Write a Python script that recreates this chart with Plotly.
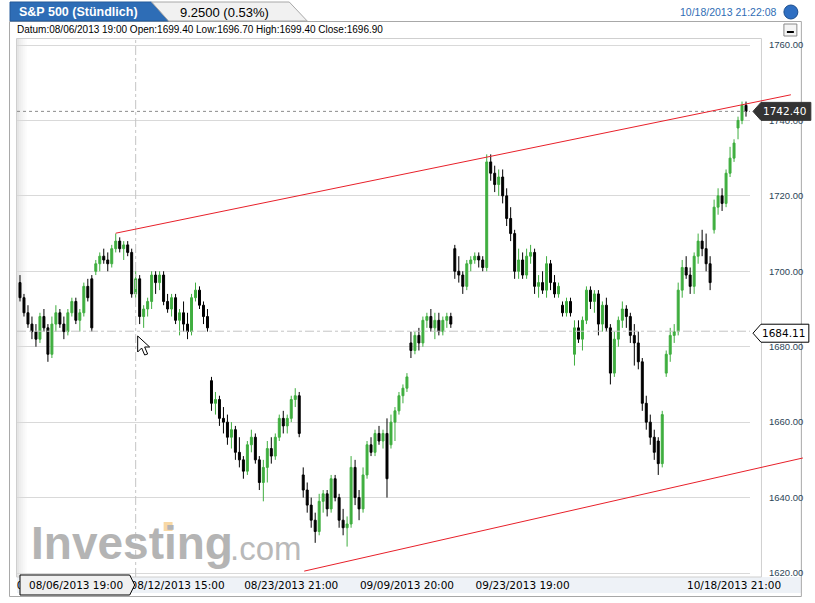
import plotly.graph_objects as go

# ---------------- data (hourly S&P 500 bars) ----------------
open_ = [1697, 1693, 1689, 1686, 1684, 1682, 1688, 1685, 1678, 1686,
         1689, 1686, 1684, 1689, 1692, 1687, 1689, 1696, 1698, 1700,
         1702, 1704, 1703, 1702, 1706, 1708, 1706, 1707, 1705, 1694,
         1698, 1688, 1690, 1692, 1699, 1697, 1699, 1692, 1690, 1693,
         1687, 1689, 1686, 1684, 1693, 1695, 1691, 1688,
         1671, 1665, 1666, 1661, 1660, 1656, 1658, 1652, 1650, 1647,
         1654, 1656, 1650, 1644, 1648, 1653, 1651, 1656, 1661, 1659,
         1661, 1666, 1667,
         1646, 1642, 1638, 1634, 1631, 1639, 1641, 1637, 1645, 1640,
         1634, 1632, 1633, 1648, 1640, 1637, 1646, 1654, 1652, 1657,
         1655, 1657, 1654, 1660, 1663, 1667, 1669,
         1681, 1679, 1683, 1681, 1687, 1688, 1685, 1687, 1684, 1687, 1688,
         1706, 1700, 1699, 1696, 1702, 1703, 1704, 1703, 1701, 1729,
         1726, 1723, 1725, 1720, 1714, 1710, 1700, 1703, 1699, 1704,
         1705, 1696, 1697, 1695, 1702, 1697, 1694, 1691, 1689, 1692,
         1678, 1685, 1682, 1687, 1695, 1692, 1694, 1686, 1691, 1685,
         1673, 1682, 1687, 1690, 1688, 1683, 1681, 1676, 1665, 1660,
         1656, 1655, 1649, 1673, 1678, 1683, 1684, 1695, 1701, 1699,
         1696, 1704, 1708, 1706, 1702, 1711, 1717, 1720, 1718, 1726,
         1730, 1738, 1740, 1744]
high = [1699, 1694, 1691, 1688, 1686, 1689, 1690, 1686, 1688, 1691,
        1690, 1688, 1690, 1693, 1693, 1690, 1697, 1698, 1699, 1703,
        1705, 1706, 1705, 1707, 1710, 1709, 1708, 1708, 1706, 1700,
        1699, 1691, 1693, 1700, 1700, 1700, 1700, 1694, 1694, 1694,
        1690, 1692, 1689, 1694, 1697, 1696, 1692, 1690,
        1672, 1668, 1667, 1664, 1662, 1660, 1659, 1656, 1651, 1655,
        1658, 1657, 1651, 1650, 1655, 1656, 1657, 1662, 1663, 1662,
        1667, 1669, 1668,
        1648, 1644, 1640, 1636, 1641, 1642, 1642, 1646, 1646, 1641,
        1637, 1635, 1651, 1650, 1642, 1648, 1655, 1656, 1658, 1659,
        1658, 1661, 1662, 1664, 1668, 1670, 1673,
        1684, 1684, 1685, 1688, 1689, 1690, 1689, 1689, 1688, 1689, 1689,
        1707, 1704, 1700, 1703, 1704, 1705, 1705, 1704, 1731, 1731,
        1728, 1727, 1727, 1722, 1717, 1711, 1706, 1705, 1706, 1707,
        1706, 1699, 1700, 1704, 1703, 1699, 1697, 1692, 1693, 1693,
        1687, 1687, 1688, 1696, 1696, 1695, 1695, 1692, 1693, 1686,
        1684, 1688, 1692, 1691, 1689, 1686, 1684, 1677, 1667, 1662,
        1658, 1656, 1663, 1679, 1685, 1686, 1697, 1703, 1704, 1701,
        1705, 1710, 1711, 1710, 1704, 1719, 1722, 1722, 1727, 1733,
        1735, 1741, 1745, 1745]
low = [1692, 1688, 1685, 1682, 1680, 1681, 1684, 1676, 1677, 1684,
       1685, 1682, 1683, 1688, 1686, 1684, 1688, 1692, 1684, 1699,
       1700, 1702, 1700, 1701, 1705, 1705, 1703, 1704, 1693, 1693,
       1686, 1685, 1688, 1690, 1694, 1695, 1691, 1689, 1688, 1686,
       1683, 1684, 1682, 1683, 1692, 1690, 1686, 1684,
       1663, 1662, 1659, 1657, 1654, 1653, 1650, 1648, 1645, 1646,
       1652, 1649, 1642, 1639, 1644, 1649, 1650, 1655, 1657, 1657,
       1660, 1664, 1656,
       1640, 1636, 1632, 1628, 1630, 1636, 1635, 1636, 1639, 1632,
       1630, 1627, 1632, 1638, 1634, 1636, 1645, 1651, 1651, 1654,
       1653, 1640, 1653, 1655, 1662, 1665, 1668,
       1677, 1678, 1679, 1680, 1685, 1684, 1682, 1683, 1683, 1685, 1685,
       1698, 1697, 1694, 1695, 1700, 1702, 1701, 1700, 1700, 1724,
       1721, 1720, 1718, 1712, 1708, 1698, 1698, 1698, 1698, 1702,
       1694, 1693, 1694, 1693, 1695, 1693, 1693, 1688, 1688, 1688,
       1675, 1681, 1679, 1686, 1690, 1689, 1683, 1684, 1684, 1670,
       1672, 1680, 1685, 1685, 1681, 1675, 1674, 1663, 1658, 1654,
       1650, 1646, 1648, 1672, 1676, 1681, 1683, 1693, 1698, 1694,
       1694, 1702, 1704, 1700, 1695, 1710, 1715, 1716, 1717, 1725,
       1729, 1735, 1739, 1741]
close = [1693, 1689, 1686, 1684, 1682, 1688, 1685, 1678, 1686, 1689,
         1686, 1684, 1689, 1692, 1687, 1689, 1696, 1693, 1685, 1702,
         1704, 1703, 1702, 1706, 1708, 1706, 1707, 1705, 1694, 1698,
         1688, 1690, 1692, 1699, 1697, 1699, 1692, 1690, 1693, 1687,
         1689, 1686, 1684, 1693, 1695, 1691, 1688, 1685,
         1665, 1666, 1661, 1660, 1656, 1658, 1652, 1650, 1647, 1654,
         1656, 1650, 1644, 1648, 1653, 1651, 1656, 1661, 1659, 1661,
         1666, 1667, 1657,
         1642, 1638, 1634, 1631, 1639, 1641, 1637, 1645, 1640, 1634,
         1632, 1633, 1648, 1640, 1637, 1646, 1654, 1652, 1657, 1655,
         1657, 1645, 1660, 1663, 1667, 1669, 1672,
         1679, 1683, 1681, 1687, 1688, 1685, 1687, 1684, 1687, 1688, 1686,
         1700, 1699, 1696, 1702, 1703, 1704, 1703, 1701, 1729, 1726,
         1723, 1725, 1720, 1714, 1710, 1700, 1703, 1699, 1704, 1705,
         1696, 1697, 1695, 1702, 1697, 1694, 1696, 1689, 1692, 1689,
         1685, 1682, 1687, 1695, 1692, 1694, 1686, 1691, 1685, 1673,
         1682, 1687, 1690, 1688, 1683, 1681, 1676, 1665, 1660, 1656,
         1652, 1649, 1662, 1678, 1683, 1684, 1695, 1701, 1699, 1696,
         1704, 1708, 1706, 1702, 1697, 1717, 1720, 1718, 1726, 1730,
         1734, 1740, 1744, 1742.40]
bar_index = list(range(len(close)))

tick_index = [11, 39.5, 68, 97, 126, 179]
tick_text = ["08/06/2013 19:00", "08/12/2013 15:00", "08/23/2013 21:00",
             "09/09/2013 20:00", "09/23/2013 19:00", "10/18/2013 21:00"]
y_ticks = [1620, 1640, 1660, 1680, 1700, 1720, 1740, 1760]

upper_trend_idx = [24, 193.25]
upper_trend_val = [1710.1, 1746.8]
lower_trend_idx = [71.25, 196.25]
lower_trend_val = [1620.5, 1650.5]

crosshair_idx = 29
crosshair_val = 1684.11
crosshair_date = "08/06/2013 19:00"
info_text = "Datum:08/06/2013 19:00 Open:1699.40 Low:1696.70 High:1699.40 Close:1696.90"
title_text = "S&P 500 (Stündlich)"
change_text = "9.2500 (0.53%)"
time_text = "10/18/2013 21:22:08"

# ---------------- layout geometry ----------------
W, H = 815, 603
L, R, T, B = 17, 752, 39, 577
x_range = [-0.75, 183]
y_range = [1618.94, 1761.59]


def px(x):
    return (x - L) / (R - L)


def py(y):
    return (B - y) / (B - T)


def ix(i):
    return (i - x_range[0]) / (x_range[1] - x_range[0])


def path(points):
    s = "M " + " L ".join(f"{px(a):.5f},{py(b):.5f}" for a, b in points) + " Z"
    return s


ARIAL = "Arial, Liberation Sans, sans-serif"
VERD = "DejaVu Sans, Verdana, sans-serif"

fig = go.Figure()
fig.add_trace(go.Candlestick(
    x=bar_index, open=open_, high=high, low=low, close=close,
    increasing=dict(line=dict(color="#3fae3f", width=1), fillcolor="#3fae3f"),
    decreasing=dict(line=dict(color="#000000", width=1), fillcolor="#000000"),
    whiskerwidth=0, hoverinfo="skip", showlegend=False,
))

shapes = []
# frames / backgrounds
shapes.append(dict(type="rect", xref="paper", yref="paper", x0=px(17), x1=px(803), y0=py(593), y1=py(577),
                   fillcolor="#eef2f7", line=dict(width=0), layer="below"))
for k, a in enumerate([0.10, 0.07, 0.05, 0.03, 0.015]):
    shapes.append(dict(type="rect", xref="paper", yref="paper", x0=px(17 + 2 * k), x1=px(19 + 2 * k),
                       y0=py(577), y1=py(39), fillcolor=f"rgba(0,0,0,{a})", line=dict(width=0), layer="below"))
shapes.append(dict(type="rect", xref="paper", yref="paper", x0=px(9.5), x1=px(803.5), y0=py(596.5), y1=py(21.5),
                   line=dict(color="#a8a8a8", width=1), fillcolor="rgba(0,0,0,0)", layer="below"))
shapes.append(dict(type="rect", xref="paper", yref="paper", x0=px(16.5), x1=px(763.5), y0=py(577), y1=py(38.5),
                   line=dict(color="#cfcfcf", width=1), fillcolor="rgba(0,0,0,0)", layer="below"))
# header tabs
shapes.append(dict(type="path", xref="paper", yref="paper",
                   path=path([(10, 2), (152, 2), (169, 21), (10, 21)]),
                   fillcolor="#2e6db6", line=dict(color="#245a99", width=1), layer="above"))
shapes.append(dict(type="path", xref="paper", yref="paper",
                   path=path([(169, 21), (152, 2), (290, 2), (308, 21)]),
                   fillcolor="#f1f1f1", line=dict(color="#a8a8a8", width=1), layer="above"))
# blue ball + minimise button
shapes.append(dict(type="circle", xref="paper", yref="paper", x0=px(786), x1=px(800), y0=py(19), y1=py(5),
                   fillcolor="#2f6fc2", line=dict(color="#1c4f8f", width=1)))
shapes.append(dict(type="rect", xref="paper", yref="paper", x0=px(786), x1=px(799), y0=py(36), y1=py(24),
                   fillcolor="#f5f5f5", line=dict(color="#8a8a8a", width=1)))
shapes.append(dict(type="line", xref="paper", yref="paper", x0=px(789), x1=px(796), y0=py(32), y1=py(32),
                   line=dict(color="#000000", width=2)))
# crosshair
shapes.append(dict(type="line", xref="x", yref="paper", x0=crosshair_idx, x1=crosshair_idx, y0=0, y1=1,
                   line=dict(color="#c4c4c4", width=1, dash="dashdot")))
shapes.append(dict(type="line", xref="paper", yref="y", x0=0, x1=1, y0=crosshair_val, y1=crosshair_val,
                   line=dict(color="#c4c4c4", width=1, dash="dashdot")))
# last price dotted line
shapes.append(dict(type="line", xref="paper", yref="y", x0=0, x1=1, y0=close[-1], y1=close[-1],
                   line=dict(color="#8c8c8c", width=1, dash="dot")))
# trend lines
for idxs, vals in ((upper_trend_idx, upper_trend_val), (lower_trend_idx, lower_trend_val)):
    shapes.append(dict(type="line", xref="paper", yref="y", x0=ix(idxs[0]), x1=ix(idxs[1]),
                       y0=vals[0], y1=vals[1], line=dict(color="#e8202a", width=1)))
# right price labels
yl = B - (close[-1] - y_range[0]) / (y_range[1] - y_range[0]) * (B - T)
shapes.append(dict(type="path", xref="paper", yref="paper",
                   path=path([(755, yl), (763, yl - 9), (813, yl - 9), (813, yl + 9), (763, yl + 9)]),
                   fillcolor="#333333", line=dict(color="#333333", width=1), layer="above"))
yc = B - (crosshair_val - y_range[0]) / (y_range[1] - y_range[0]) * (B - T) + 2
shapes.append(dict(type="path", xref="paper", yref="paper",
                   path=path([(755, yc), (763, yc - 9), (811, yc - 9), (811, yc + 9), (763, yc + 9)]),
                   fillcolor="#ffffff", line=dict(color="#000000", width=1), layer="above"))
# bottom date label
shapes.append(dict(type="path", xref="paper", yref="paper",
                   path=path([(20, 575), (130, 575), (135, 585), (130, 595), (20, 595)]),
                   fillcolor="#f0f0f0", line=dict(color="#000000", width=1), layer="above"))
# mouse cursor
shapes.append(dict(type="path", xref="paper", yref="paper",
                   path=path([(138, 336), (138, 352), (142, 348), (145, 355), (148, 354), (145, 347), (150, 347)]),
                   fillcolor="#ffffff", line=dict(color="#000000", width=1), layer="above"))
# watermark accent
shapes.append(dict(type="rect", xref="paper", yref="paper", x0=px(164), x1=px(173), y0=py(531), y1=py(522),
                   fillcolor="#f8d8a4", line=dict(width=0), layer="below"))

annotations = [
    dict(x=px(17), y=py(12), xref="paper", yref="paper", xanchor="left", yanchor="middle", showarrow=False,
         text="<b>" + title_text + "</b>", font=dict(family=ARIAL, size=12.5, color="#ffffff")),
    dict(x=px(178), y=py(12), xref="paper", yref="paper", xanchor="left", yanchor="middle", showarrow=False,
         text=change_text, font=dict(family=ARIAL, size=13, color="#000000")),
    dict(x=px(15), y=py(29), xref="paper", yref="paper", xanchor="left", yanchor="middle", showarrow=False,
         text=info_text, font=dict(family=ARIAL, size=10, color="#000000")),
    dict(x=px(781), y=py(12), xref="paper", yref="paper", xanchor="right", yanchor="middle", showarrow=False,
         text=time_text, font=dict(family=ARIAL, size=10.5, color="#2f6db5")),
    dict(x=px(787), y=py(yl), xref="paper", yref="paper", xanchor="center", yanchor="middle", showarrow=False,
         text=f"{close[-1]:.2f}", font=dict(family=VERD, size=10.5, color="#ffffff")),
    dict(x=px(786), y=py(yc), xref="paper", yref="paper", xanchor="center", yanchor="middle", showarrow=False,
         text=f"{crosshair_val:.2f}", font=dict(family=VERD, size=10.5, color="#000000")),
    dict(x=px(76), y=py(585), xref="paper", yref="paper", xanchor="center", yanchor="middle", showarrow=False,
         text=crosshair_date, font=dict(family=VERD, size=10.5, color="#000000")),
    dict(x=px(29), y=py(543), xref="paper", yref="paper", xanchor="left", yanchor="middle", showarrow=False,
         text="<b>Investing</b>", font=dict(family=ARIAL, size=46, color="#b4b4b4")),
    dict(x=px(229), y=py(548), xref="paper", yref="paper", xanchor="left", yanchor="middle", showarrow=False,
         text=".com", font=dict(family=ARIAL, size=33, color="#b9b9b9")),
]

fig.update_layout(
    width=W, height=H,
    margin=dict(l=L, r=W - R, t=T, b=H - B, pad=0),
    paper_bgcolor="#ffffff", plot_bgcolor="#ffffff",
    showlegend=False,
    shapes=shapes, annotations=annotations,
    xaxis=dict(range=x_range, tickvals=tick_index, ticktext=tick_text, showgrid=False, zeroline=False,
               showline=False, ticks="", tickfont=dict(family=VERD, size=10.5, color="#000000"),
               rangeslider=dict(visible=False), fixedrange=True, ticklabelstandoff=0),
    yaxis=dict(range=y_range, side="right", tickvals=y_ticks, ticktext=[f"{v:.2f}" for v in y_ticks],
               showgrid=True, gridcolor="#d9d9d9", gridwidth=1, zeroline=False, showline=False, ticks="",
               tickfont=dict(family=ARIAL, size=9.5, color="#2b4658"), ticklabelstandoff=18, fixedrange=True),
)

fig.write_html("out.html", config={"displayModeBar": False},
               post_script="document.body.style.margin='0';document.body.style.overflow='hidden';")
